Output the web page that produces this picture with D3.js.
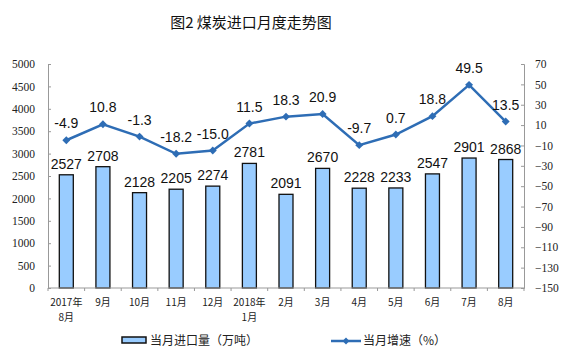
<!DOCTYPE html>
<html><head><meta charset="utf-8">
<script src="https://cdn.jsdelivr.net/npm/d3@7/dist/d3.min.js"></script>
<style>body{margin:0;background:#fff}svg{display:block}</style>
</head><body>
<script>
const categories = ["2017年\n8月","9月","10月","11月","12月","2018年\n1月","2月","3月","4月","5月","6月","7月","8月"];
const imports = [2527,2708,2128,2205,2274,2781,2091,2670,2228,2233,2547,2901,2868];
const growth = [-4.9,10.8,-1.3,-18.2,-15.0,11.5,18.3,20.9,-9.7,0.7,18.8,49.5,13.5];
const leftTicks = [0,500,1000,1500,2000,2500,3000,3500,4000,4500,5000];
const rightTicks = [70,50,30,10,-10,-30,-50,-70,-90,-110,-130,-150];

const W=561,H=357, L=48, R=524, T=64, B=288;
const svg=d3.select("body").append("svg").attr("width",W).attr("height",H);
const x=d3.scaleBand().domain(d3.range(categories.length)).range([L,R]);
const yL=d3.scaleLinear().domain([0,5000]).range([B,T]);
const yR=d3.scaleLinear().domain([-150,70]).range([B,T]);
const axisColor="#999";
const tickFont="'Liberation Serif','DejaVu Serif',serif";

svg.append("text").attr("x",251).attr("y",28).attr("text-anchor","middle")
  .attr("font-family","'Noto Sans CJK SC',sans-serif").attr("font-size",15).attr("fill","#111")
  .text("图2  煤炭进口月度走势图");

// left axis
const gl=svg.append("g").attr("transform",`translate(${L},0)`)
  .call(d3.axisLeft(yL).tickValues(leftTicks).tickSize(-3).tickPadding(13).tickFormat(d3.format("d")));
// right axis
const gr=svg.append("g").attr("transform",`translate(${R},0)`)
  .call(d3.axisRight(yR).tickValues(rightTicks).tickSize(-3).tickPadding(11).tickFormat(d3.format("d")));
[gl,gr].forEach(g=>{
  g.select(".domain").attr("stroke",axisColor);
  g.selectAll(".tick line").attr("stroke",axisColor);
  g.selectAll("text").attr("font-family",tickFont).attr("font-size",11.5).attr("fill","#222");
});

// bars
const bw=14;
svg.append("g").selectAll("rect").data(imports).join("rect")
  .attr("x",(d,i)=>x(i)+x.bandwidth()/2-bw/2).attr("y",d=>yL(d))
  .attr("width",bw).attr("height",d=>B-yL(d))
  .attr("fill","#99CCFF").attr("stroke","#111").attr("stroke-width",1.3);

// x axis
const gx=svg.append("g").attr("transform",`translate(0,${B})`);
gx.append("line").attr("x1",L).attr("x2",R).attr("stroke",axisColor);
gx.selectAll("line.t").data(d3.range(categories.length+1)).join("line").attr("class","t")
  .attr("x1",i=>L+i*x.step()).attr("x2",i=>L+i*x.step()).attr("y1",0).attr("y2",3).attr("stroke",axisColor);
const xl=gx.selectAll("text").data(categories).join("text")
  .attr("text-anchor","middle").attr("font-family","'Noto Sans CJK SC',sans-serif").attr("font-size",10).attr("fill","#222");
xl.each(function(d,i){
  const lines=d.split("\n");
  d3.select(this).selectAll("tspan").data(lines).join("tspan")
    .attr("x",x(i)+x.bandwidth()/2).attr("y",(l,j)=>18+j*15).text(l=>l);
});

// bar labels
svg.append("g").selectAll("text").data(imports).join("text")
  .attr("x",(d,i)=>x(i)+x.bandwidth()/2).attr("y",d=>yL(d)-6)
  .attr("text-anchor","middle").attr("font-family","'Liberation Sans',Arial,sans-serif").attr("font-size",14).attr("fill","#111")
  .text(d=>d);

// line
const lineColor="#2E6DB5";
svg.append("path").datum(growth)
  .attr("d",d3.line().x((d,i)=>x(i)+x.bandwidth()/2).y(d=>yR(d)))
  .attr("fill","none").attr("stroke",lineColor).attr("stroke-width",2.5);
svg.append("g").selectAll("path").data(growth).join("path")
  .attr("transform",(d,i)=>`translate(${x(i)+x.bandwidth()/2},${yR(d)})`)
  .attr("d",d3.symbol(d3.symbolDiamond2,40)).attr("fill",lineColor);
svg.append("g").selectAll("text").data(growth).join("text")
  .attr("x",(d,i)=>x(i)+x.bandwidth()/2).attr("y",d=>yR(d)-12)
  .attr("text-anchor","middle").attr("font-family","'Liberation Sans',Arial,sans-serif").attr("font-size",14).attr("fill","#111")
  .text(d=>d.toFixed(1));

// legend
const lg=svg.append("g");
lg.append("rect").attr("x",122).attr("y",337).attr("width",24).attr("height",6)
  .attr("fill","#99CCFF").attr("stroke","#111").attr("stroke-width",1.5);
lg.append("text").attr("x",150).attr("y",345).attr("font-family","'Noto Sans CJK SC',sans-serif").attr("font-size",12).attr("fill","#222").text("当月进口量（万吨）");
lg.append("line").attr("x1",331).attr("x2",361).attr("y1",341).attr("y2",341).attr("stroke",lineColor).attr("stroke-width",2.5);
lg.append("path").attr("transform","translate(346,341)").attr("d",d3.symbol(d3.symbolDiamond2,30)).attr("fill",lineColor);
lg.append("text").attr("x",363).attr("y",345).attr("font-family","'Noto Sans CJK SC',sans-serif").attr("font-size",12).attr("fill","#222").text("当月增速（%）");
</script>
</body></html>
